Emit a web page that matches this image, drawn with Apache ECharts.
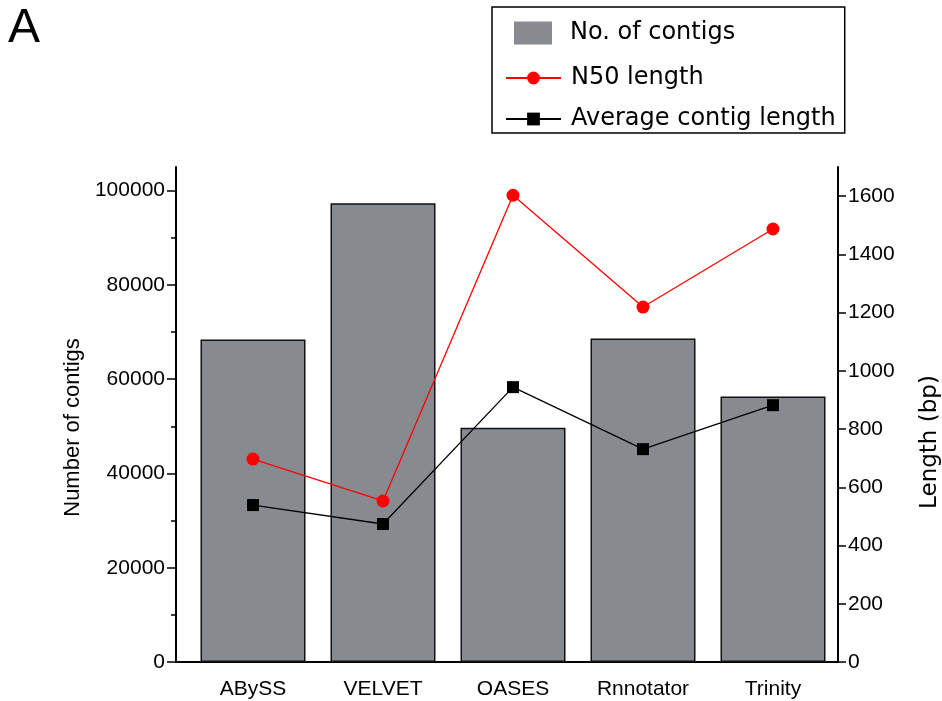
<!DOCTYPE html>
<html>
<head>
<meta charset="utf-8">
<script src="https://cdn.jsdelivr.net/npm/echarts@6/dist/echarts.min.js"></script>
<style>
  html, body { margin: 0; background: #fff; }
  #chart { width: 942px; height: 701px; }
</style>
</head>
<body>
<div id="chart"></div>
<script>
// data
var assemblers = ['ABySS', 'VELVET', 'OASES', 'Rnnotator', 'Trinity'];
var contigCount = [68400, 97300, 49700, 68600, 56300];
var n50Length = [697, 553, 1603, 1219, 1487];
var avgContigLength = [539, 474, 944, 731, 882];
var countTicks = [0, 20000, 40000, 60000, 80000, 100000];
var countMinorTicks = [10000, 30000, 50000, 70000, 90000];
var lengthTicks = [0, 200, 400, 600, 800, 1000, 1200, 1400, 1600];

var chart = echarts.init(document.getElementById('chart'));

var plainNum = function (v) { return String(v); };
var labelFont = { fontFamily: 'Liberation Sans', fontSize: 21, color: '#000' };
var legendFont = { fontFamily: 'DejaVu Sans', fontSize: 24, color: '#000' };

var option = {
  animation: false,
  title: {
    text: 'A',
    left: 3,
    top: 0,
    textStyle: { fontFamily: 'Liberation Sans', fontSize: 48, fontWeight: 'normal', color: '#000' }
  },
  legend: [
    {
      data: ['No. of contigs'],
      orient: 'vertical',
      left: 514,
      top: 21,
      padding: 0,
      itemWidth: 38,
      itemHeight: 23,
      icon: 'rect',
      itemStyle: { borderWidth: 0 },
      textStyle: Object.assign({ padding: [8, 0, 0, 13] }, legendFont)
    },
    {
      data: ['N50 length', 'Average contig length'],
      orient: 'vertical',
      left: 492,
      top: 7,
      padding: [59, 9, 2, 13],
      itemWidth: 55,
      itemHeight: 16,
      itemGap: 17,
      borderColor: '#000',
      borderWidth: 1.5,
      textStyle: Object.assign({ padding: [0, 0, 0, 5] }, legendFont)
    }
  ],
  grid: [
    { left: 188, right: 104, top: 167, bottom: 39, outerBoundsMode: 'none' },
    { left: 176, right: 104, top: 167, bottom: 39, outerBoundsMode: 'none' }
  ],
  xAxis: [
    {
      type: 'category',
      gridIndex: 0,
      data: assemblers,
      axisLine: { show: false },
      axisTick: { show: false },
      axisLabel: Object.assign({ margin: 17 }, labelFont)
    },
    {
      type: 'value',
      gridIndex: 1,
      min: 0,
      max: 1,
      axisLine: { lineStyle: { color: '#000', width: 2 } },
      axisTick: { show: false },
      axisLabel: { show: false },
      splitLine: { show: false }
    }
  ],
  yAxis: [
    {
      type: 'value',
      gridIndex: 0,
      position: 'left',
      min: 0,
      max: 105000,
      show: false
    },
    {
      type: 'value',
      gridIndex: 0,
      position: 'right',
      min: 0,
      max: 1700,
      interval: 100,
      name: 'Length (bp)',
      nameLocation: 'middle',
      nameRotate: 90,
      nameGap: 81,
      nameTextStyle: { fontFamily: 'DejaVu Sans', fontSize: 23, color: '#000', padding: [0, 55, 0, 0] },
      axisLine: { show: true, lineStyle: { color: '#000', width: 2 } },
      axisTick: { show: true, customValues: lengthTicks, length: 8, lineStyle: { color: '#000', width: 1.5 } },
      axisLabel: Object.assign({ customValues: lengthTicks, margin: 10, formatter: plainNum }, labelFont),
      splitLine: { show: false }
    },
    {
      type: 'value',
      gridIndex: 1,
      position: 'left',
      min: 0,
      max: 105000,
      interval: 5000,
      name: 'Number of contigs',
      nameLocation: 'middle',
      nameRotate: 90,
      nameGap: 83,
      nameTextStyle: { fontFamily: 'Liberation Sans', fontSize: 22, color: '#000', padding: [0, 26, 0, 0] },
      axisLine: { show: true, lineStyle: { color: '#000', width: 2 } },
      axisTick: { show: true, customValues: countTicks, length: 9, lineStyle: { color: '#000', width: 1.5 } },
      axisLabel: Object.assign({ customValues: countTicks, margin: 11, formatter: plainNum }, labelFont),
      splitLine: { show: false }
    },
    {
      type: 'value',
      gridIndex: 1,
      position: 'left',
      min: 0,
      max: 105000,
      interval: 5000,
      axisLine: { show: false },
      axisTick: { show: true, customValues: countMinorTicks, length: 5, lineStyle: { color: '#000', width: 1.5 } },
      axisLabel: { show: false },
      splitLine: { show: false }
    }
  ],
  series: [
    {
      name: 'No. of contigs',
      type: 'bar',
      xAxisIndex: 0,
      yAxisIndex: 0,
      data: contigCount,
      barWidth: 105,
      itemStyle: { color: '#878b8f', borderColor: '#111', borderWidth: 1.5 },
      z: 1
    },
    {
      name: 'N50 length',
      type: 'line',
      xAxisIndex: 0,
      yAxisIndex: 1,
      data: n50Length,
      symbol: 'circle',
      symbolSize: 13,
      itemStyle: { color: '#ff0000' },
      lineStyle: { color: '#ff0000', width: 1.3 },
      z: 3
    },
    {
      name: 'Average contig length',
      type: 'line',
      xAxisIndex: 0,
      yAxisIndex: 1,
      data: avgContigLength,
      symbol: 'rect',
      symbolSize: 12,
      itemStyle: { color: '#000' },
      lineStyle: { color: '#000', width: 1.3 },
      z: 3
    }
  ]
};

chart.setOption(option);
</script>
</body>
</html>
